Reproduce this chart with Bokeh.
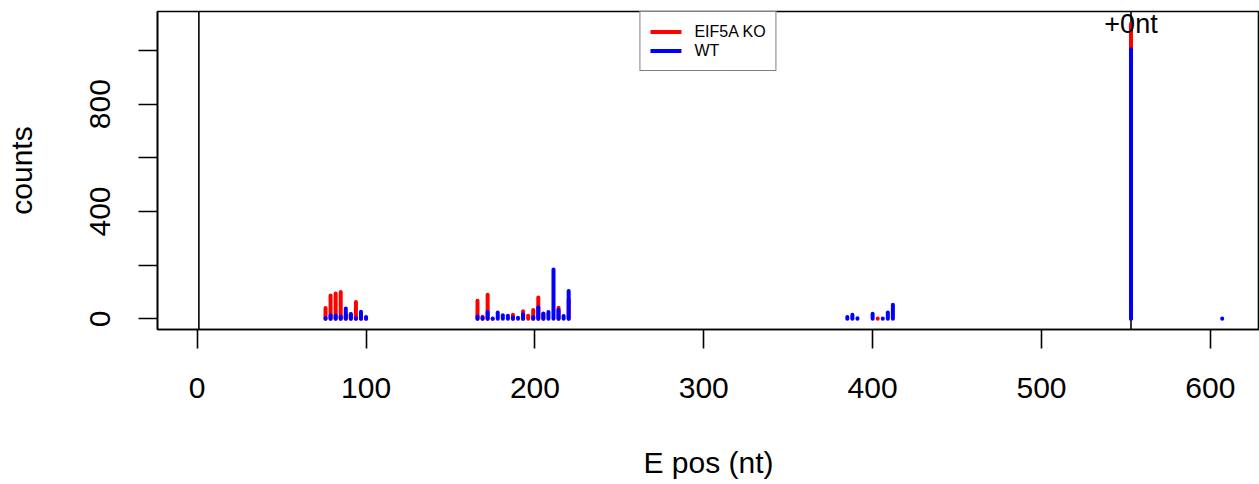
from bokeh.plotting import figure
from bokeh.models import ColumnDataSource, Range1d, FixedTicker, Span, Legend, LegendItem
from bokeh.core.properties import value
from bokeh.embed import file_html
from bokeh.resources import INLINE

# ---- data ----
ko_pos = [76, 79, 82, 85, 88, 91, 94, 97, 100,
          166, 169, 172, 175, 187, 193, 196, 199, 202, 205, 214, 220,
          403, 553]
ko_counts = [40, 87, 94, 100, 15, 17, 63, 10, 3,
             67, 8, 90, 0, 15, 28, 11, 33, 79, 20, 41, 73,
             1, 1100]

wt_pos = [76, 79, 82, 85, 88, 91, 94, 97, 100,
          166, 169, 172, 175, 178, 181, 184, 187, 190, 193, 199, 202, 205, 208, 211, 214, 217, 220,
          385, 388, 391, 400, 406, 409, 412,
          553, 607]
wt_counts = [3, 13, 12, 9, 38, 18, 3, 26, 7,
             9, 4, 26, 1, 23, 13, 11, 5, 4, 17, 7, 43, 19, 25, 184, 33, 10, 104,
             7, 15, 2, 19, 1, 23, 52,
             1005, 1]

marker_positions = [1, 553]
marker_text = "+0nt"
x_ticks = [0, 100, 200, 300, 400, 500, 600]
y_ticks = [0, 200, 400, 600, 800, 1000]
y_tick_labels = {0: "0", 200: "", 400: "400", 600: "", 800: "800", 1000: ""}

FONT = "Liberation Sans"

p = figure(width=1259, height=484, output_backend="svg", toolbar_location=None,
           x_range=Range1d(-23.5, 629.1), y_range=Range1d(-39.9, 1145.3),
           min_border_left=157, min_border_right=0, min_border_top=11, min_border_bottom=155)
p.background_fill_color = "white"
p.border_fill_color = "white"
p.outline_line_color = "black"
p.outline_line_width = 1.6
p.xgrid.visible = False
p.ygrid.visible = False

for xm in marker_positions:
    p.add_layout(Span(location=xm, dimension="height", line_color="black",
                      line_width=1.6, level="underlay"))

ko_src = ColumnDataSource(dict(x=ko_pos, y0=[0] * len(ko_pos), y1=ko_counts))
wt_src = ColumnDataSource(dict(x=wt_pos, y0=[0] * len(wt_pos), y1=wt_counts))

r_ko = p.segment(x0="x", y0="y0", x1="x", y1="y1", source=ko_src,
                 line_color="#FF0000", line_width=4, line_cap="round")
r_wt = p.segment(x0="x", y0="y0", x1="x", y1="y1", source=wt_src,
                 line_color="#0000FF", line_width=4, line_cap="round")

p.text(x=[marker_positions[1]], y=[max(ko_counts)], text=[marker_text],
       text_align="center", text_baseline="middle", y_offset=0,
       text_font=value(FONT), text_font_size="27px", text_color="black")

legend = Legend(items=[LegendItem(label="EIF5A KO", renderers=[r_ko]),
                       LegendItem(label="WT", renderers=[r_wt])],
                location="top_center", margin=0, padding=10, spacing=0,
                glyph_width=31, glyph_height=19, label_height=19, label_standoff=13,
                label_text_font=FONT, label_text_font_size="16px",
                label_text_color="black",
                border_line_color="black", border_line_width=1.4,
                background_fill_color="white", background_fill_alpha=1.0)
p.add_layout(legend)

for ax in (p.xaxis, p.yaxis):
    ax.axis_line_color = "black"
    ax.axis_line_width = 1.6
    ax.major_tick_line_color = "black"
    ax.major_tick_line_width = 1.6
    ax.major_tick_out = 19
    ax.major_tick_in = 0
    ax.minor_tick_line_color = None
    ax.major_label_text_font = FONT
    ax.major_label_text_font_size = "30px"
    ax.major_label_text_color = "black"
    ax.axis_label_text_font = FONT
    ax.axis_label_text_font_size = "30px"
    ax.axis_label_text_font_style = "normal"
    ax.axis_label_text_color = "black"

p.xaxis.ticker = FixedTicker(ticks=x_ticks)
p.xaxis.major_label_standoff = 29
p.xaxis.axis_label = "E pos (nt)"
p.xaxis.axis_label_standoff = 45

p.yaxis.ticker = FixedTicker(ticks=y_ticks)
p.yaxis.major_label_overrides = {k: v for k, v in y_tick_labels.items()}
p.yaxis.major_label_orientation = "vertical"
p.yaxis.major_label_standoff = 28
p.yaxis.axis_label = "counts"
p.yaxis.axis_label_standoff = 50

open("out.html", "w").write(file_html(p, INLINE))
